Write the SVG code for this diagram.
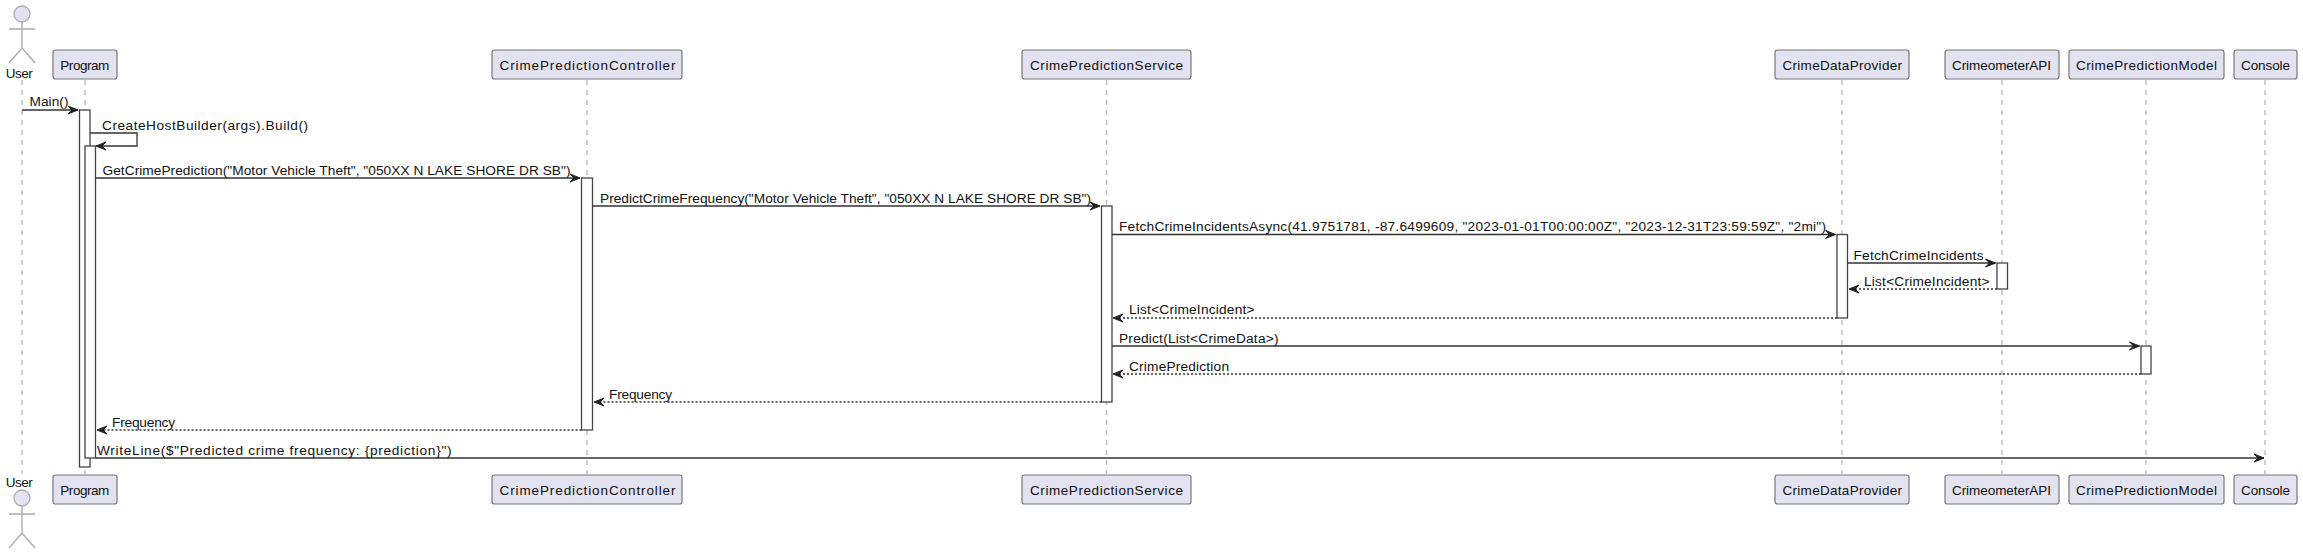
<svg xmlns="http://www.w3.org/2000/svg" width="2303" height="555" viewBox="0 0 2303 555">
<style>
text{font-family:"Liberation Sans",Arial,sans-serif;font-size:13.7px;fill:#111}
.t{font-size:13.5px}
.p{fill:#E2E2F0;stroke:#777;stroke-width:1.2}
.ll{stroke:#bbb;stroke-width:1.4;stroke-dasharray:5 5;fill:none}
.a{stroke:#333;stroke-width:1.3;fill:none}
.d{stroke:#333;stroke-width:1.3;fill:none;stroke-dasharray:2 2}
.act{fill:#fff;stroke:#444;stroke-width:1.3}
.h{fill:#222;stroke:#222;stroke-width:1}
.s{fill:#E2E2F0;stroke:#aaa;stroke-width:1.3}
.s2{fill:none;stroke:#aaa;stroke-width:1.3}
</style>
<defs>
<path id="r" class="h" d="M0 0L-10 -4L-6 0L-10 4Z"/>
<path id="l" class="h" d="M0 0L10 -4L6 0L10 4Z"/>
</defs>
<g id="lifelines">
<path class="ll" d="M22 80V474"/><path class="ll" d="M85 80V474"/><path class="ll" d="M587 80V474"/><path class="ll" d="M1106.500 80V474"/><path class="ll" d="M1842 80V474"/><path class="ll" d="M2002 80V474"/><path class="ll" d="M2146 80V474"/><path class="ll" d="M2265 80V474"/>
</g>
<g id="activations">
<rect class="act" x="79.500" y="110" width="10.500" height="357"/>
<rect class="act" x="85" y="146" width="10.500" height="312"/>
<rect class="act" x="581.500" y="178" width="11" height="252"/>
<rect class="act" x="1101.500" y="206" width="10.500" height="196"/>
<rect class="act" x="1837" y="234.500" width="10.500" height="83.500"/>
<rect class="act" x="1997" y="263" width="10.500" height="26"/>
<rect class="act" x="2141" y="346" width="10" height="28"/>
</g>
<g id="connectors">
<path class="a" d="M22 110H78"/><use href="#r" x="78" y="110"/>
<path class="a" d="M90 133H137V146H96"/><use href="#l" x="96" y="146"/>
<path class="a" d="M95.500 178H580"/><use href="#r" x="580" y="178"/>
<path class="a" d="M592.500 206H1100"/><use href="#r" x="1100" y="206"/>
<path class="a" d="M1112 234.500H1835.500"/><use href="#r" x="1835.500" y="234.500"/>
<path class="a" d="M1847.500 263H1995.500"/><use href="#r" x="1995.500" y="263"/>
<path class="d" d="M1997 289H1849"/><use href="#l" x="1849" y="289"/>
<path class="d" d="M1837 318H1113"/><use href="#l" x="1113" y="318"/>
<path class="a" d="M1112 346H2139.500"/><use href="#r" x="2139.500" y="346"/>
<path class="d" d="M2141 374H1113"/><use href="#l" x="1113" y="374"/>
<path class="d" d="M1101.500 402H594"/><use href="#l" x="594" y="402"/>
<path class="d" d="M581.500 430H97"/><use href="#l" x="97" y="430"/>
<path class="a" d="M95.500 458H2264"/><use href="#r" x="2264" y="458"/>
</g>
<g id="labels">
<text x="29.500" y="106" textLength="39">Main()</text>
<text x="102" y="129.500" textLength="206">CreateHostBuilder(args).Build()</text>
<text x="102.500" y="175" textLength="468">GetCrimePrediction("Motor Vehicle Theft", "050XX N LAKE SHORE DR SB")</text>
<text x="600" y="203" textLength="491">PredictCrimeFrequency("Motor Vehicle Theft", "050XX N LAKE SHORE DR SB")</text>
<text x="1119" y="231" textLength="707">FetchCrimeIncidentsAsync(41.9751781, -87.6499609, "2023-01-01T00:00:00Z", "2023-12-31T23:59:59Z", "2mi")</text>
<text x="1853.500" y="259.500" textLength="130">FetchCrimeIncidents</text>
<text x="1864" y="286" textLength="125.500">List&lt;CrimeIncident&gt;</text>
<text x="1129" y="314" textLength="125.500">List&lt;CrimeIncident&gt;</text>
<text x="1119" y="343" textLength="159.500">Predict(List&lt;CrimeData&gt;)</text>
<text x="1129" y="371" textLength="100">CrimePrediction</text>
<text x="609" y="398.500" textLength="63">Frequency</text>
<text x="112" y="426.500" textLength="63">Frequency</text>
<text x="97" y="454.500" textLength="354.500">WriteLine($"Predicted crime frequency: {prediction}")</text>
</g>
<g id="User"><circle class="s" cx="22" cy="14" r="8"/><path class="s2" d="M22 22V48M9 29H35M9 63L22 48L35 63"/><text class="t" x="5.700" y="77.500" textLength="27">User</text></g>
<g id="User-bottom"><text class="t" x="5.700" y="487" textLength="27">User</text><circle class="s" cx="22" cy="498" r="8"/><path class="s2" d="M22 506V514M22 514V533M9 514H35M9 548L22 533L35 548"/></g>
<g id="Program"><rect class="p" x="53" y="50" width="64" height="29" rx="2.500"/><text class="t" x="60.300" y="70" textLength="49">Program</text></g>
<g id="Program-bottom"><rect class="p" x="53" y="475" width="64" height="29" rx="2.500"/><text class="t" x="60.300" y="495" textLength="49">Program</text></g>
<g id="CrimePredictionController"><rect class="p" x="492" y="50" width="190" height="29" rx="2.500"/><text class="t" x="499.500" y="70" textLength="176">CrimePredictionController</text></g>
<g id="CrimePredictionController-bottom"><rect class="p" x="492" y="475" width="190" height="29" rx="2.500"/><text class="t" x="499.500" y="495" textLength="176">CrimePredictionController</text></g>
<g id="CrimePredictionService"><rect class="p" x="1022" y="50" width="169" height="29" rx="2.500"/><text class="t" x="1030" y="70" textLength="153">CrimePredictionService</text></g>
<g id="CrimePredictionService-bottom"><rect class="p" x="1022" y="475" width="169" height="29" rx="2.500"/><text class="t" x="1030" y="495" textLength="153">CrimePredictionService</text></g>
<g id="CrimeDataProvider"><rect class="p" x="1775" y="50" width="134" height="29" rx="2.500"/><text class="t" x="1782.500" y="70" textLength="119.500">CrimeDataProvider</text></g>
<g id="CrimeDataProvider-bottom"><rect class="p" x="1775" y="475" width="134" height="29" rx="2.500"/><text class="t" x="1782.500" y="495" textLength="119.500">CrimeDataProvider</text></g>
<g id="CrimeometerAPI"><rect class="p" x="1945" y="50" width="114" height="29" rx="2.500"/><text class="t" x="1952" y="70" textLength="99">CrimeometerAPI</text></g>
<g id="CrimeometerAPI-bottom"><rect class="p" x="1945" y="475" width="114" height="29" rx="2.500"/><text class="t" x="1952" y="495" textLength="99">CrimeometerAPI</text></g>
<g id="CrimePredictionModel"><rect class="p" x="2069" y="50" width="155" height="29" rx="2.500"/><text class="t" x="2076" y="70" textLength="141">CrimePredictionModel</text></g>
<g id="CrimePredictionModel-bottom"><rect class="p" x="2069" y="475" width="155" height="29" rx="2.500"/><text class="t" x="2076" y="495" textLength="141">CrimePredictionModel</text></g>
<g id="Console"><rect class="p" x="2234" y="50" width="63" height="29" rx="2.500"/><text class="t" x="2241" y="70" textLength="49">Console</text></g>
<g id="Console-bottom"><rect class="p" x="2234" y="475" width="63" height="29" rx="2.500"/><text class="t" x="2241" y="495" textLength="49">Console</text></g>
</svg>
